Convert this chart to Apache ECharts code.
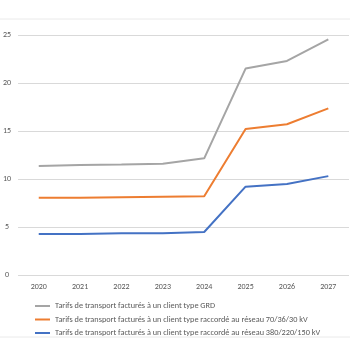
<!DOCTYPE html>
<html>
<head>
<meta charset="utf-8">
<script src="https://cdn.jsdelivr.net/npm/echarts@6/dist/echarts.min.js"></script>
<style>
  html, body { margin: 0; padding: 0; background: #fff; }
  #chart { width: 350px; height: 350px; }
</style>
</head>
<body>
<div id="chart"></div>
<script>
// Years on the horizontal axis
const years = ['2020', '2021', '2022', '2023', '2024', '2025', '2026', '2027'];

// Transport tariffs per client type
const seriesNames = [
  'Tarifs de transport facturés à un client type GRD',
  'Tarifs de transport facturés à un client type raccordé au réseau 70/36/30 kV',
  'Tarifs de transport facturés à un client type raccordé au réseau 380/220/150 kV'
];
const grdValues = [11.35, 11.45, 11.5, 11.6, 12.15, 21.5, 22.3, 24.55];
const hv70Values = [8.05, 8.05, 8.1, 8.15, 8.2, 15.2, 15.7, 17.35];
const hv380Values = [4.27, 4.28, 4.35, 4.35, 4.48, 9.2, 9.48, 10.3];

// Value axis ticks
const yTicks = [0, 5, 10, 15, 20, 25];

const colors = ['#A5A5A5', '#ED7D31', '#4472C4'];
const font = 'Calibri, Carlito, "Liberation Sans", "DejaVu Sans", sans-serif';

const chart = echarts.init(document.getElementById('chart'));

const makeSeries = (name, data, color) => ({
  name: name,
  type: 'line',
  data: data,
  symbol: 'none',
  lineStyle: { color: color, width: 2 },
  itemStyle: { color: color }
});

chart.setOption({
  animation: false,
  textStyle: { fontFamily: font },
  grid: { left: 16, right: 1, top: 35, bottom: 75, containLabel: false },
  xAxis: {
    type: 'category',
    data: years,
    boundaryGap: true,
    axisLine: { show: false },
    axisTick: { show: false },
    axisLabel: { color: '#595959', fontSize: 8, margin: 8 }
  },
  yAxis: {
    type: 'value',
    min: yTicks[0],
    max: yTicks[yTicks.length - 1],
    interval: 5,
    axisLine: { show: false },
    axisTick: { show: false },
    axisLabel: { color: '#595959', fontSize: 8, margin: 11, align: 'center' },
    splitLine: { lineStyle: { color: '#D9D9D9', width: 1 } }
  },
  legend: {
    orient: 'vertical',
    left: 30,
    top: 297,
    itemWidth: 15,
    itemHeight: 2,
    itemGap: 5.5,
    icon: 'rect',
    textStyle: { color: '#595959', fontSize: 8.25 },
    data: seriesNames
  },
  graphic: [
    { type: 'line', shape: { x1: 0, y1: 19, x2: 350, y2: 19 }, style: { stroke: '#EAEAEA', lineWidth: 1 } },
    { type: 'line', shape: { x1: 0, y1: 337, x2: 350, y2: 337 }, style: { stroke: '#EAEAEA', lineWidth: 1 } }
  ],
  series: [
    makeSeries(seriesNames[0], grdValues, colors[0]),
    makeSeries(seriesNames[1], hv70Values, colors[1]),
    makeSeries(seriesNames[2], hv380Values, colors[2])
  ]
});
</script>
</body>
</html>
